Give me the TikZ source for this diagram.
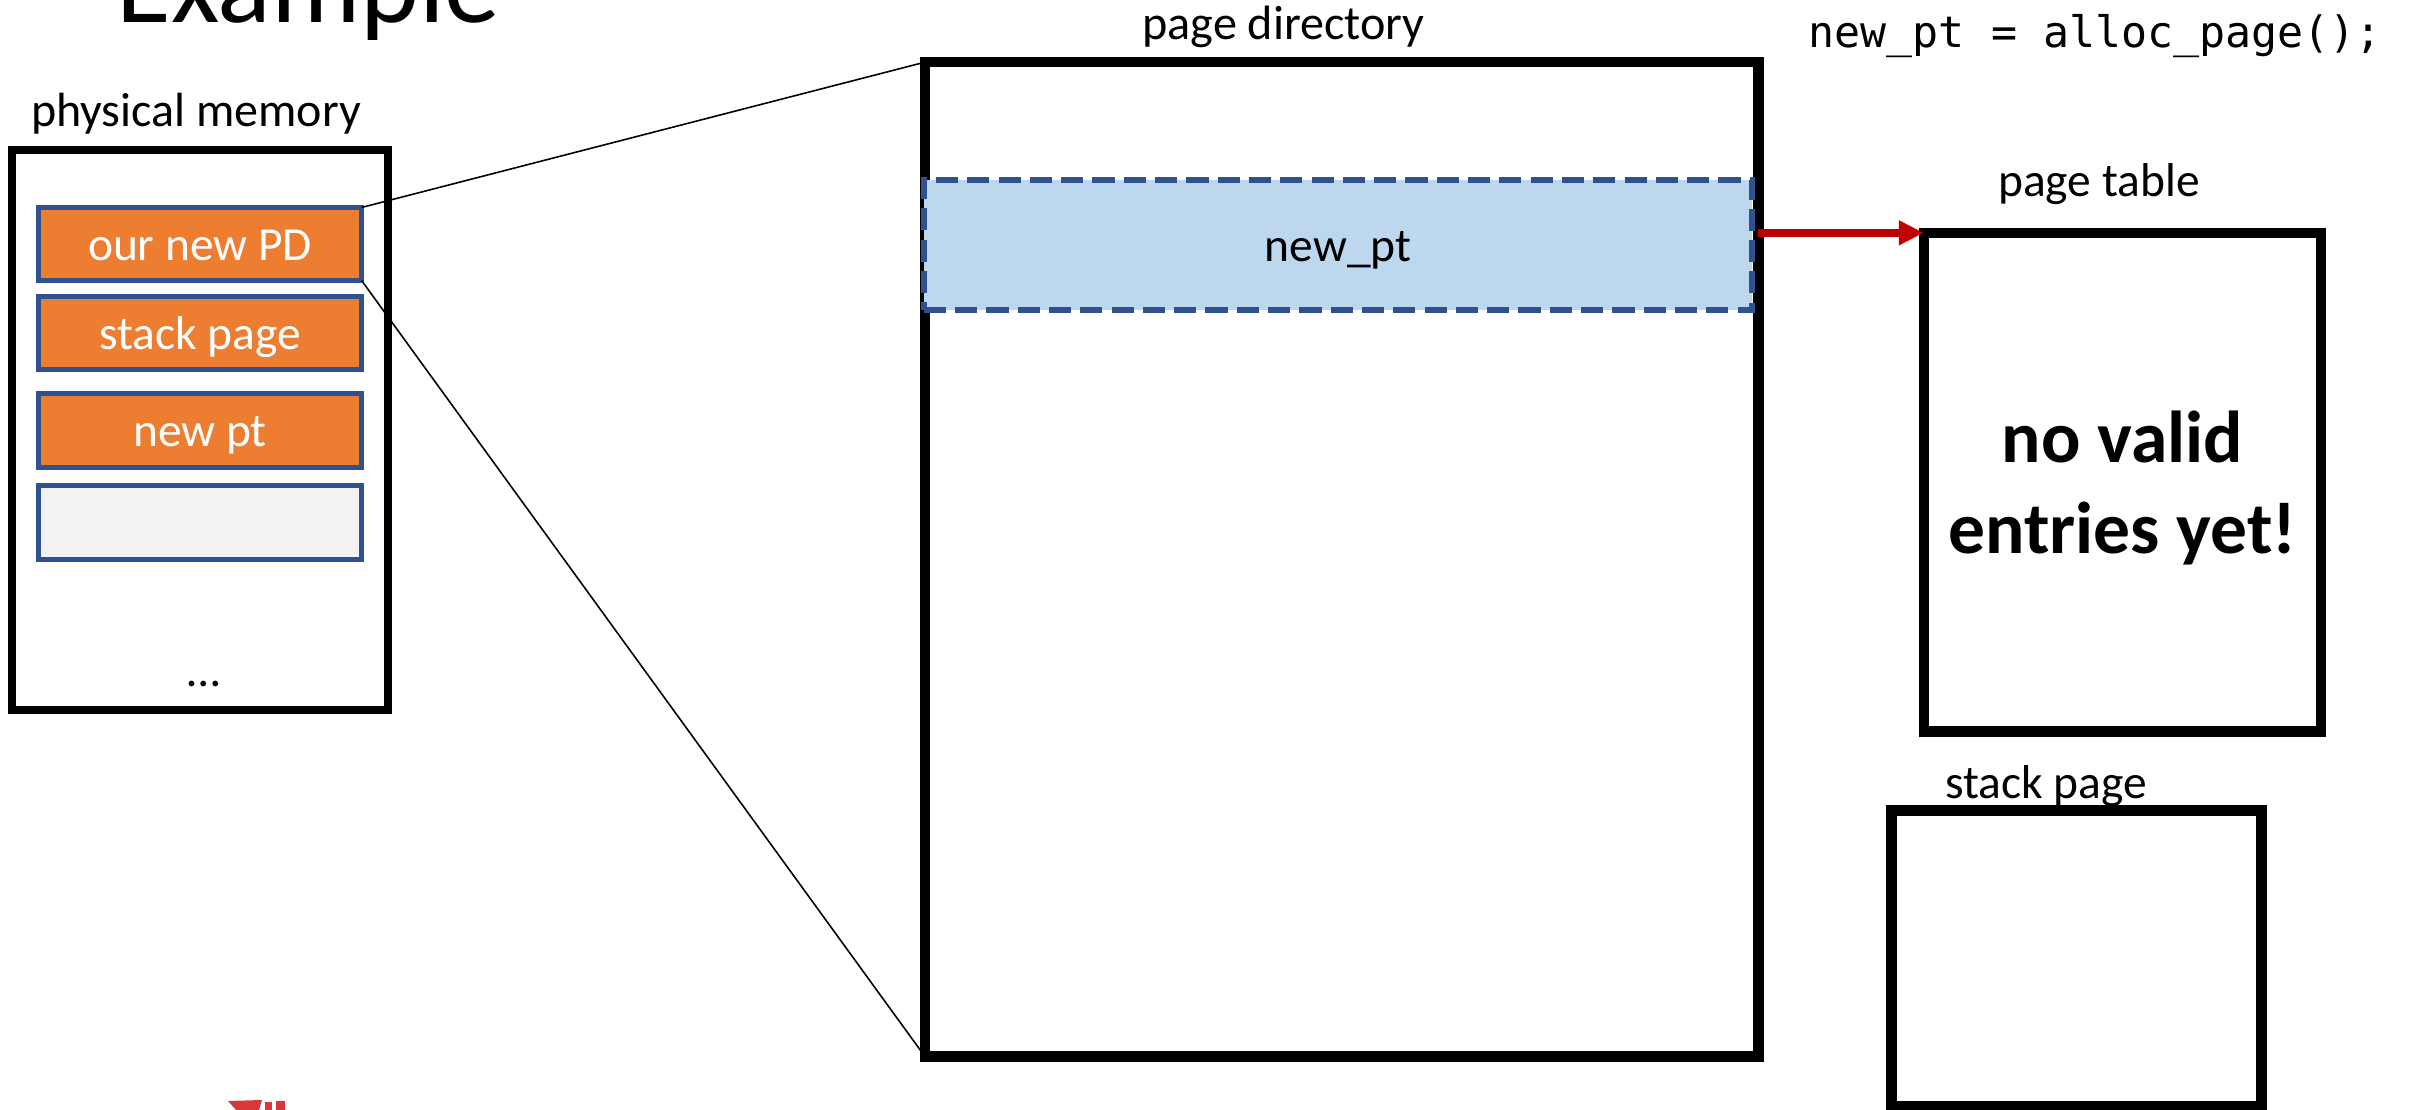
\documentclass[tikz,border=0pt]{standalone}
\usepackage{fontspec}
\setmainfont{Carlito}
\setmonofont{DejaVu Sans Mono}
\usetikzlibrary{arrows.meta}
\definecolor{orangefill}{HTML}{ED7D31}
\definecolor{slateblue}{HTML}{2F528F}
\definecolor{paleblue}{HTML}{BDD7EE}
\definecolor{palegray}{HTML}{F2F2F2}
\definecolor{arrowred}{HTML}{C00000}
\definecolor{logored}{HTML}{D9383A}

\begin{document}
\begin{tikzpicture}[x=0.01cm, y=-0.01cm,
  frame/.style={draw=black, fill=white, inner sep=0pt, outer sep=0pt},
  cell/.style={draw=slateblue, line width=1.42pt, minimum width=3.23cm,
    minimum height=0.73cm, inner sep=0pt, outer sep=0pt, text=white,
    font=\fontsize{13.5pt}{16pt}\selectfont, text height=0.32cm, text depth=0pt},
  usedcell/.style={cell, fill=orangefill},
  freecell/.style={cell, fill=palegray},
  pdentry/.style={draw=slateblue, fill=paleblue, line width=1.7pt,
    dash pattern=on 6.3pt off 2.6pt, minimum width=8.28cm, minimum height=1.3cm,
    inner sep=0pt, outer sep=0pt, font=\fontsize{13.5pt}{16pt}\selectfont,
    text height=0.32cm, text depth=0pt},
  caption/.style={anchor=base, inner sep=0pt, font=\fontsize{13.5pt}{16pt}\selectfont},
  bigbold/.style={anchor=base, inner sep=0pt, font=\fontsize{20.9pt}{25pt}\selectfont\bfseries},
  zoomline/.style={draw=black, line width=0.45pt},
  pointer/.style={draw=arrowred, line width=2.3pt, -{Triangle[length=7.1pt,width=6.6pt]}}
]
\useasboundingbox (0,0) rectangle (2410,1110);

% slide title, partly above the top edge
\node[anchor=base west, inner sep=0pt, font=\fontsize{31.8pt}{36pt}\selectfont]
  (title) at (116,23) {Example};

% physical memory column
\node[caption, font=\fontsize{13.65pt}{16pt}\selectfont] (physlbl) at (196,127) {physical memory};
\node[frame, line width=2.13pt, minimum width=3.76cm, minimum height=5.6cm] (phys) at (200,430) {};
\node[usedcell] (cellpd) at (200,244) {our new PD};
\node[usedcell] (cellstack) at (200,333) {stack page};
\node[usedcell] (cellpt) at (200,430.5) {new pt};
\node[freecell] (cellfree) at (200,522.5) {};
\node[caption] (dots) at (204,686) {…};

% page directory
\node[caption, font=\fontsize{13.7pt}{16pt}\selectfont] (pdirlbl) at (1283.5,40) {page directory};
\node[frame, line width=3pt, minimum width=8.33cm, minimum height=9.935cm] (pdir) at (1341.5,559.25) {};
\node[pdentry] (entry) at (1338,245) {new\_pt};

% zoom lines from the physical page to the directory
\draw[zoomline] (cellpd.north east) -- (pdir.north west);
\draw[zoomline] (cellpd.south east) -- (pdir.south west);

% code line
\node[anchor=base west, inner sep=0pt, font=\fontsize{12.3pt}{15pt}\ttfamily]
  (code) at (1808,48) {new\_pt = alloc\_page();};

% page table
\node[caption] (ptablbl) at (2099,197) {page table};
\node[frame, line width=3pt, minimum width=3.97cm, minimum height=4.985cm] (ptab) at (2122.5,482.25) {};
\node[bigbold] (msg1) at (2122.5,462.5) {no valid};
\node[bigbold] (msg2) at (2122.5,553.6) {entries yet!};

\draw[pointer] (pdir.east |- ptab.north west) -- (ptab.north west);

% stack page
\node[caption] (stacklbl) at (2046,798) {stack page};
\node[frame, line width=3pt, minimum width=3.7cm, minimum height=2.955cm] (stackpg) at (2076.5,958.25) {};

% logo fragment at the lower edge
\fill[logored] (228,1101) -- (262,1100) -- (259,1110) -- (236,1110) -- cycle;
\fill[logored] (265,1102) rectangle (272,1110);
\fill[logored] (276,1101) rectangle (285,1110);
\end{tikzpicture}
\end{document}
